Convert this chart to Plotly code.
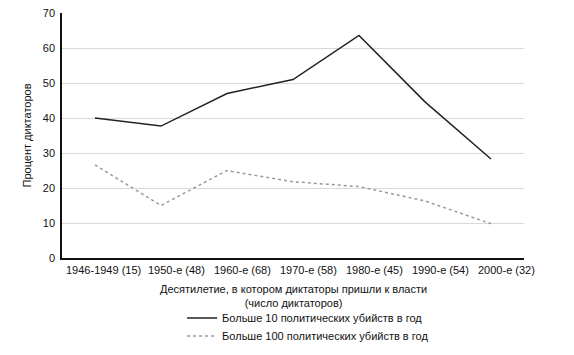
import plotly.graph_objects as go

categories = ["1946-1949 (15)", "1950-е (48)", "1960-е (68)", "1970-е (58)",
              "1980-е (45)", "1990-е (54)", "2000-е (32)"]
over_10 = [40, 37.7, 47, 51, 63.6, 44.6, 28.3]
over_100 = [26.6, 15, 25, 21.8, 20.4, 16.3, 9.8]
y_ticks = [0, 10, 20, 30, 40, 50, 60, 70]
x_title = "Десятилетие, в котором диктаторы пришли к власти<br>(число диктаторов)"
y_title = "Процент диктаторов"

font_family = "Liberation Sans, Arial, sans-serif"

fig = go.Figure()
fig.add_trace(go.Scatter(
    x=categories, y=over_10, mode="lines",
    name="Больше 10 политических убийств в год",
    line=dict(color="#222222", width=1.5), legend="legend"))
fig.add_trace(go.Scatter(
    x=categories, y=over_100, mode="lines",
    name="Больше 100 политических убийств в год",
    line=dict(color="#9a9a9a", width=1.5, dash="3px,3px"), legend="legend2"))

# category tick labels: in the original they sit slightly right of the points,
# the first one starting at the axis origin
for i, cat in enumerate(categories):
    first = i == 0
    fig.add_annotation(
        x=-0.5 if first else cat, xref="x", y=0, yref="paper",
        text=cat, showarrow=False,
        xanchor="left" if first else "center", yanchor="middle",
        xshift=2 if first else 15, yshift=-12,
        font=dict(size=11, color="#111111"))

# x-axis title
fig.add_annotation(
    x=0.5, xref="paper", y=0, yref="paper", text=x_title, showarrow=False,
    xanchor="center", yanchor="top", yshift=-23, align="center",
    font=dict(size=11, color="#111111"))

legend_style = dict(xanchor="left", yanchor="middle",
                    font=dict(size=11, color="#111111"),
                    itemwidth=30, bgcolor="rgba(0,0,0,0)", borderwidth=0)

fig.update_layout(
    width=574, height=355,
    margin=dict(l=54, r=58, t=5, b=105, autoexpand=False),
    paper_bgcolor="white", plot_bgcolor="white",
    font=dict(family=font_family, size=11, color="#111111"),
    showlegend=True,
    legend=dict(x=0.26, y=-0.245, **legend_style),
    legend2=dict(x=0.26, y=-0.318, **legend_style),
    xaxis=dict(
        type="category", range=[-0.5, 6.5], automargin=False,
        showline=True, linecolor="#111111", linewidth=1.5,
        showgrid=False, ticks="", showticklabels=False),
    yaxis=dict(
        range=[0, 70], tickvals=y_ticks, automargin=False,
        showline=True, linecolor="#111111", linewidth=1.5,
        showgrid=True, gridcolor="#d9d9d9", gridwidth=1.2,
        zeroline=False, ticks="", ticklabelstandoff=3,
        ticklabeloverflow="allow", tickfont=dict(size=11),
        title=dict(text=y_title, font=dict(size=11), standoff=9)),
)

fig.write_html("out.html")
